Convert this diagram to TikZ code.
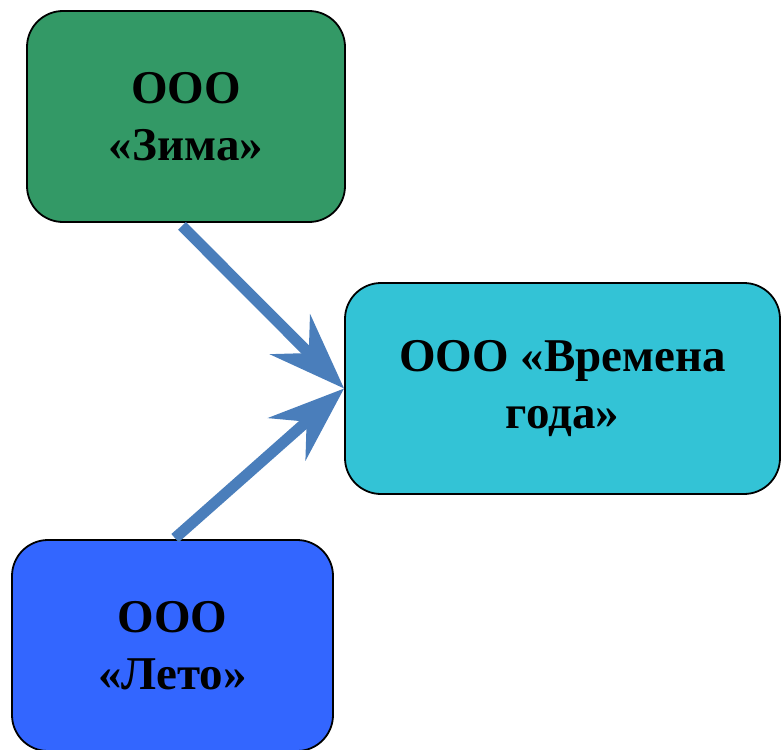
\documentclass[tikz,border=0pt]{standalone}
\usepackage{fontspec}
\setmainfont{Liberation Serif}
\usetikzlibrary{arrows.meta}
\definecolor{zimagreen}{HTML}{339966}
\definecolor{vremteal}{HTML}{33C3D6}
\definecolor{letoblue}{HTML}{3366FF}
\definecolor{arrblue}{HTML}{4A7EBB}
\tikzset{
  orgbox/.style={draw=black, line width=1.8pt, rounded corners=36pt, align=center,
    font=\fontsize{47}{57}\selectfont\bfseries, inner sep=0pt, minimum height=211pt},
  bigarrow/.style={draw=arrblue, line width=11pt,
    -{Stealth[length=76pt, width=56pt, inset=26pt]}}
}
\begin{document}
\begin{tikzpicture}[x=1pt, y=-1pt]
\useasboundingbox (0,0) rectangle (781,749);
\node[orgbox, fill=zimagreen, minimum width=318pt] (zima) at (186,116.5) {ООО\\«Зима»};
\node[orgbox, fill=vremteal, minimum width=435pt] (vrem) at (562.5,388.5) {ООО «Времена\\года»};
\node[orgbox, fill=letoblue, minimum width=321pt] (leto) at (172.5,645.5) {ООО\\«Лето»};
\coordinate (s1) at ([xshift=-4pt, yshift=-3pt]zima.south);
\coordinate (s2) at ([xshift=2.5pt, yshift=1pt]leto.north);
\draw[bigarrow] (s1) -- (vrem.west);
\draw[bigarrow] (s2) -- (vrem.west);
\end{tikzpicture}
\end{document}
